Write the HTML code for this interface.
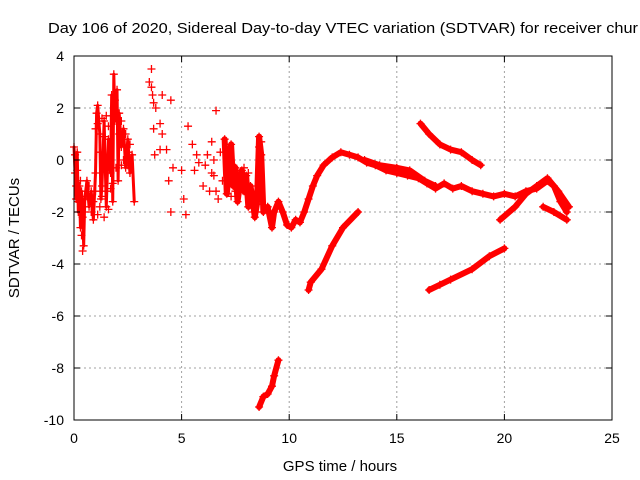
<!DOCTYPE html>
<html><head><meta charset="utf-8"><style>
body{margin:0;background:#fff;}
svg{display:block;font-family:"Liberation Sans",sans-serif;}
</style></head><body>
<svg id="chart" width="640" height="480">
<rect width="640" height="480" fill="#fff"/>
<text x="48" y="33" font-size="15" fill="#000" textLength="590" lengthAdjust="spacingAndGlyphs">Day 106 of 2020, Sidereal Day-to-day VTEC variation (SDTVAR) for receiver chur</text>
<text x="340" y="471" font-size="15" text-anchor="middle">GPS time / hours</text>
<text transform="translate(19,238) rotate(-90)" font-size="15" text-anchor="middle">SDTVAR / TECUs</text>
<g id="grid"></g><g id="marks"></g><g id="axes"></g>
</svg>
<script>
const xTicks=[0,5,10,15,20,25];
const yTicks=[-10,-8,-6,-4,-2,0,2,4];
const mainTrack=[[0,0.5],[0.05,-0.5],[0.1,-1.5],[0.15,0.3],[0.2,-2],[0.25,-1],[0.3,-2.6],[0.35,-1.2],[0.4,-2.2],[0.45,-3.3],[0.5,-1.5],[0.6,-0.8],[0.7,-1.8],[0.8,-1.2],[0.9,-2.3],[1.0,-0.5],[1.05,1.8],[1.1,2.1],[1.2,1.0],[1.25,-1.5],[1.3,-1.0],[1.4,1.5],[1.5,-1.8],[1.6,0.8],[1.7,-0.5],[1.75,2.5],[1.8,-1.6],[1.85,3.3],[1.9,1.5],[2.0,2.7],[2.05,-0.8],[2.1,1.8],[2.2,0.5],[2.3,1.2],[2.4,-0.3],[2.5,0.8],[2.6,-0.5],[2.7,0.2],[2.8,-1.6]];
const denseCluster=[[0.1,-1.0],[0.2,-1.6],[0.3,-0.8],[0.5,-2.0],[0.6,-1.4],[0.7,-1.0],[0.8,-2.0],[0.9,-1.6],[1.0,-1.2],[1.1,-2.1],[1.2,-1.8],[1.3,-1.4],[1.4,-2.2],[1.5,-1.2],[1.6,-1.9],[1.7,-1.1],[1.8,-0.9],[0.35,-2.9],[0.4,-3.5],[0.05,0.2],[0.15,-0.4],[1.2,0.3],[1.3,1.6],[1.4,0.9],[1.5,1.7],[1.6,1.3],[2.1,1.0],[2.2,1.5],[2.3,0.0],[2.4,1.0],[2.5,0.3],[2.6,0.6],[1.9,2.3],[2.0,1.8],[1.1,1.4],[1.0,1.2],[2.2,-0.2],[2.5,-0.2],[1.95,-0.3]];
const scatterPts=[[3.5,3.0],[3.6,3.5],[3.65,2.5],[3.7,1.2],[3.8,2.0],[3.75,0.2],[4.0,1.4],[4.0,0.4],[4.1,2.5],[4.3,0.4],[4.4,-0.8],[4.5,2.3],[4.6,-0.3],[4.5,-2],[5.0,-0.4],[5.1,-1.5],[5.2,-2.1],[5.3,1.3],[5.5,0.6],[5.6,-0.4],[5.7,0.2],[6.0,-1.0],[6.1,-0.2],[6.3,-1.2],[6.4,0.7],[6.5,-0.6],[6.6,1.9],[6.7,-1.5],[6.8,0.3],[6.9,-0.8],[3.6,2.8],[3.7,2.2],[4.1,1.0],[6.2,0.2],[6.4,-0.5],[6.6,-1.2],[6.5,0.0],[5.8,-0.1]];
const lateTrack=[[7.0,0.8],[7.1,-1.3],[7.2,-0.4],[7.3,0.6],[7.4,-1.0],[7.5,-0.3],[7.6,-1.6],[7.8,-0.4],[7.9,-1.2],[8.0,-0.6],[8.1,-1.8],[8.2,-1.0],[8.3,-1.5],[8.4,-2.2],[8.5,-1.7],[8.6,0.9],[8.7,0.2],[8.8,-2.0],[9.0,-1.8],[9.2,-2.6],[9.3,-2.0],[9.5,-1.6],[9.7,-2.0],[9.9,-2.5],[10.1,-2.6],[10.3,-2.3],[10.5,-2.4],[10.7,-2.0],[10.9,-1.5],[11.1,-1.0],[11.3,-0.6],[11.6,-0.2],[12.0,0.1],[12.4,0.3],[12.8,0.2],[13.2,0.1],[13.6,-0.1],[14.0,-0.2],[14.5,-0.4],[15.0,-0.5],[15.5,-0.6],[16.0,-0.7],[16.4,-0.9],[16.8,-1.1],[17.2,-0.9],[17.6,-1.1],[18.0,-1.0],[18.5,-1.2],[19.0,-1.3],[19.5,-1.4],[20.0,-1.3],[20.5,-1.4],[21.0,-1.2],[21.5,-1.1],[22.0,-0.8],[22.3,-1.0],[22.6,-1.6],[22.9,-2.0]];
const lateCluster=[[7.2,-0.8],[7.4,-0.2],[7.5,-1.2],[7.6,-0.6],[7.7,-1.0],[7.8,-0.9],[7.9,-0.3],[8.0,-1.3],[8.1,-0.5],[7.3,-1.4],[7.1,0.2],[8.6,0.5],[8.7,0.7],[8.5,-2.0],[8.3,-2.0]];
const upperBranch=[[13.5,0.0],[14.2,-0.2],[15.0,-0.3],[15.6,-0.4],[16.3,-0.8],[16.8,-1.0]];
const trackB=[[16.1,1.4],[16.5,1.0],[17.0,0.6],[17.5,0.4],[18.0,0.3],[18.5,0.0],[18.9,-0.2]];
const trackC=[[10.9,-5.0],[11.0,-4.7],[11.5,-4.2],[12.0,-3.3],[12.5,-2.6],[13.2,-2.0]];
const trackD=[[16.5,-5.0],[17.0,-4.8],[17.5,-4.6],[18.5,-4.2],[19.3,-3.7],[20.0,-3.4]];
const trackE=[[8.6,-9.5],[8.8,-9.1],[9.0,-9.0],[9.2,-8.7],[9.3,-8.3],[9.5,-7.7]];
const trackF=[[19.8,-2.3],[20.5,-1.8],[21.0,-1.3],[21.5,-1.0],[22.0,-0.7],[22.5,-1.2],[23.0,-1.8]];
const trackG=[[21.8,-1.8],[22.3,-2.0],[22.9,-2.3]];
const X0=74,X1=612,Y0=420,Y1=56;
const sx=v=>X0+(v-0)/(25-0)*(X1-X0);
const sy=v=>Y0-(v+10)/14*(Y0-Y1);
const NS='http://www.w3.org/2000/svg';
function mk(tag,attrs,parent){const e=document.createElementNS(NS,tag);for(const k in attrs)e.setAttribute(k,attrs[k]);parent.appendChild(e);return e;}
const grid=document.getElementById('grid'),marks=document.getElementById('marks'),axes=document.getElementById('axes');
xTicks.forEach(t=>{
 if(t>0&&t<25){const g=mk('line',{x1:sx(t),x2:sx(t),y1:Y1,y2:Y0,stroke:'#a0a0a0','stroke-dasharray':'2,3'},grid);
 
 }
 mk('line',{x1:sx(t),x2:sx(t),y1:Y0,y2:Y0-6,stroke:'#000'},axes);
 mk('line',{x1:sx(t),x2:sx(t),y1:Y1,y2:Y1+6,stroke:'#000'},axes);
 const l=mk('text',{x:sx(t),y:443,'font-size':14,'text-anchor':'middle'},axes);l.textContent=t;
 
 
});
yTicks.forEach(t=>{
 if(t>-10&&t<4){const g=mk('line',{x1:X0,x2:X1,y1:sy(t),y2:sy(t),stroke:'#a0a0a0','stroke-dasharray':'2,3'},grid);
 
 }
 mk('line',{x1:X0,x2:X0+6,y1:sy(t),y2:sy(t),stroke:'#000'},axes);
 mk('line',{x1:X1,x2:X1-6,y1:sy(t),y2:sy(t),stroke:'#000'},axes);
 const l=mk('text',{x:64,y:sy(t)+5,'font-size':14,'text-anchor':'end'},axes);l.textContent=t;
 
 
});
const frame=mk('rect',{x:X0,y:Y1,width:X1-X0,height:Y0-Y1,fill:'none',stroke:'#000'},axes);


function series(arr,name,lw){
 if(lw>0){const p=mk('polyline',{points:arr.map(d=>sx(d[0])+','+sy(d[1])).join(' '),fill:'none',stroke:'#f00','stroke-width':lw,'stroke-linejoin':'round','stroke-linecap':'round'},marks);
 
 }
 arr.forEach(d=>{const x=sx(d[0]),y=sy(d[1]);
  const m=mk('path',{d:`M${x-4},${y}H${x+4}M${x},${y-4}V${y+4}`,stroke:'#f00','stroke-width':1.3},marks);
  
  });
}
series(mainTrack,'main-track',3);
series(denseCluster,'dense-cluster',0);
series(scatterPts,'scatter',0);
series(lateTrack,'late-track',6);
series(lateCluster,'late-cluster',0);
series(upperBranch,'upper-branch',6);
series(trackB,'track-b',6);
series(trackC,'track-c',6);
series(trackD,'track-d',6);
series(trackE,'track-e',6);
series(trackF,'track-f',6);
series(trackG,'track-g',6);
</script>
</body></html>
